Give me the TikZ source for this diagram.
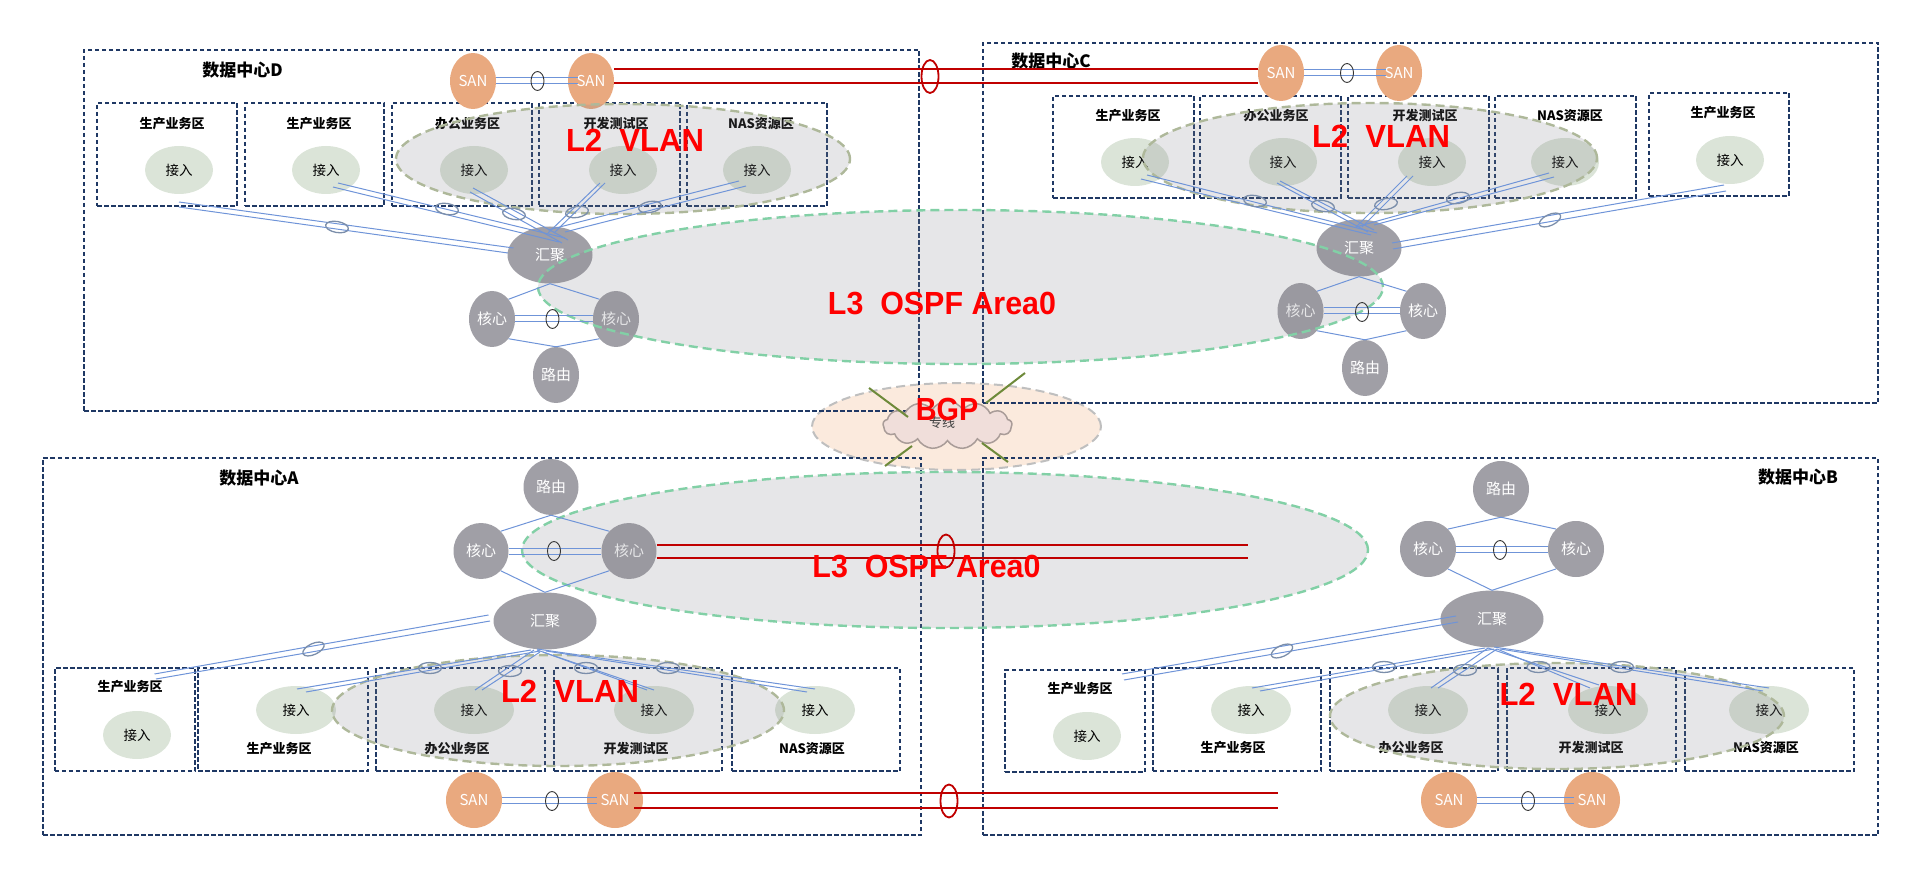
\documentclass[tikz,border=0pt]{standalone}
\usepackage{fontspec}
\setmainfont{Noto Sans CJK SC}
\newfontfamily\labelfont{Liberation Sans}
\usetikzlibrary{shapes.geometric,shapes.symbols}
\definecolor{navyline}{HTML}{1F3864}
\definecolor{linkblue}{HTML}{6F94D8}
\definecolor{ovalgray}{HTML}{7B8EAA}
\definecolor{redline}{HTML}{C00000}
\definecolor{accessfill}{HTML}{DBE4D8}
\definecolor{nodegray}{HTML}{A09FA6}
\definecolor{sanfill}{HTML}{E9A97F}
\definecolor{bgpfill}{HTML}{FBEADD}
\definecolor{cloudfill}{HTML}{F0DEDA}
\definecolor{cloudedge}{HTML}{A99C98}
\definecolor{wireolive}{HTML}{6E8A3A}
\definecolor{areagray}{HTML}{82828A}
\definecolor{lthree}{HTML}{82D0A6}
\definecolor{ltwo}{HTML}{AEB89A}
\tikzset{
  dc/.style={draw=navyline,line width=1.6pt,dash pattern=on 4.5pt off 2.5pt,inner sep=0pt,minimum width=#1},
  zone/.style={dc=#1,line width=1.8pt},
  dctitle/.style={font=\fontsize{17}{17}\selectfont\bfseries,inner sep=0pt},
  zonetitle/.style={font=\fontsize{13}{13}\selectfont\bfseries,inner sep=0pt},
  access/.style={ellipse,fill=accessfill,inner sep=0pt,minimum width=68pt,minimum height=48pt,font=\fontsize{13.5}{13.5}\selectfont},
  hub/.style={ellipse,fill=nodegray,text=white,inner sep=0pt,minimum width=85pt,minimum height=57pt,font=\fontsize{15}{15}\selectfont},
  core/.style={hub,minimum width=46pt,minimum height=56pt},
  san/.style={core,fill=sanfill,font=\fontsize{15}{15}\selectfont},
  lthreearea/.style={ellipse,draw=lthree,line width=2.4pt,dash pattern=on 9pt off 5pt,fill=areagray,fill opacity=0.2,inner sep=0pt},
  ltwoarea/.style={lthreearea,draw=ltwo},
  link/.style={draw=linkblue,line width=1pt},
  redlink/.style={draw=redline,line width=2.6pt},
  wire/.style={draw=wireolive,line width=2pt},
  linkoval/.style={ellipse,draw=ovalgray,line width=1.3pt,inner sep=0pt,minimum width=23pt,minimum height=11pt},
  twinoval/.style={ellipse,draw=black!80,line width=0.9pt,inner sep=0pt,minimum width=13pt,minimum height=19pt},
  redoval/.style={ellipse,draw=redline,line width=1.8pt,inner sep=0pt,minimum width=17pt,minimum height=33pt},
  netlabel/.style={text=red,inner sep=0pt,font=\labelfont\bfseries\fontsize{32}{32}\selectfont},
}
\begin{document}
\begin{tikzpicture}[x=1pt,y=-1pt]
\useasboundingbox (0,0) rectangle (1920,877);

\node[ellipse,draw=black!25,line width=2pt,dash pattern=on 9pt off 5pt,fill=bgpfill,inner sep=0pt,minimum width=289pt,minimum height=87pt] (bgparea) at (956.5,426.5) {};

\node[dc=835pt,minimum height=361pt] (dcD) at (501.5,230.5) {};
\node[dc=895pt,minimum height=360pt] (dcC) at (1430.5,223) {};
\node[dc=878pt,minimum height=377pt] (dcA) at (482,646.5) {};
\node[dc=895pt,minimum height=377pt] (dcB) at (1430.5,646.5) {};
\node[dctitle] (tD) at (242.5,70) {数据中心D};
\node[dctitle] (tC) at (1051,61) {数据中心C};
\node[dctitle] (tA) at (259,478) {数据中心A};
\node[dctitle] (tB) at (1798,477) {数据中心B};

\foreach \n/\x/\w in {zD1/167/140,zD2/314.5/139,zD3/462/140,zD4/609.5/141,zD5/757/140}
  \node[zone=\w pt,minimum height=103pt] (\n) at (\x,154.5) {};
\foreach \n/\x/\w in {zC1/1123.5/141,zC2/1270.5/141,zC3/1418.5/141,zC4/1565.5/141}
  \node[zone=\w pt,minimum height=102pt] (\n) at (\x,147) {};
\node[zone=140pt,minimum height=103pt] (zC5) at (1719,144.5) {};
\foreach \n/\x/\w in {zA1/125/140.5,zA2/283/170,zA3/460.5/169,zA4/638/168,zA5/816/168}
  \node[zone=\w pt,minimum height=103pt] (\n) at (\x,719.5) {};
\node[zone=140pt,minimum height=102pt] (zB1) at (1075,721) {};
\foreach \n/\x/\w in {zB2/1237/168.5,zB3/1414/167.5,zB4/1591.5/169,zB5/1769.5/169}
  \node[zone=\w pt,minimum height=103pt] (\n) at (\x,719.5) {};

\foreach \n/\x/\t in {nD1/172/生产业务区,nD2/319/生产业务区,nD3/467.5/办公业务区,nD4/616/开发测试区,nD5/761/NAS资源区}
  \node[zonetitle] (\n) at (\x,124) {\t};
\foreach \n/\x/\t in {nC1/1128/生产业务区,nC2/1276/办公业务区,nC3/1425/开发测试区,nC4/1570/NAS资源区}
  \node[zonetitle] (\n) at (\x,116) {\t};
\node[zonetitle] (nC5) at (1723,113) {生产业务区};
\node[zonetitle] (nA1) at (130,687) {生产业务区};
\foreach \n/\x/\t in {nA2/279/生产业务区,nA3/457/办公业务区,nA4/636/开发测试区,nA5/812/NAS资源区}
  \node[zonetitle] (\n) at (\x,749) {\t};
\node[zonetitle] (nB1) at (1080,689) {生产业务区};
\foreach \n/\x/\t in {nB2/1233/生产业务区,nB3/1411/办公业务区,nB4/1591/开发测试区,nB5/1766/NAS资源区}
  \node[zonetitle] (\n) at (\x,748) {\t};

\foreach \n/\x in {aD1/179,aD2/326,aD3/474,aD4/623,aD5/757}
  \node[access] (\n) at (\x,170) {接入};
\foreach \n/\x in {aC1/1135,aC2/1283,aC3/1432,aC4/1565}
  \node[access] (\n) at (\x,162) {接入};
\node[access] (aC5) at (1730,160) {接入};
\node[access] (aA1) at (137,735) {接入};
\foreach \n/\x in {aA2/296,aA3/474,aA4/654,aA5/815}
  \node[access,minimum width=80pt] (\n) at (\x,710) {接入};
\node[access] (aB1) at (1087,736) {接入};
\foreach \n/\x in {aB2/1251,aB3/1428,aB4/1608,aB5/1769}
  \node[access,minimum width=80pt] (\n) at (\x,710) {接入};

\node[hub] (hD) at (550,255) {汇聚};
\node[hub] (hC) at (1359,248) {汇聚};
\node[hub,minimum width=103pt] (hA) at (545,621) {汇聚};
\node[hub,minimum width=103pt] (hB) at (1492,619) {汇聚};
\node[core] (cD1) at (492,319) {核心};
\node[core] (cD2) at (616,319) {核心};
\node[core] (rD) at (556,375) {路由};
\node[core] (cC1) at (1300.5,311) {核心};
\node[core] (cC2) at (1423,311) {核心};
\node[core] (rC) at (1365,368) {路由};
\node[core,minimum width=55pt] (cA1) at (481,551) {核心};
\node[core,minimum width=55pt] (cA2) at (629,551) {核心};
\node[core,minimum width=55pt] (rA) at (551,487) {路由};
\node[core,minimum width=56pt] (cB1) at (1428,549) {核心};
\node[core,minimum width=56pt] (cB2) at (1576,549) {核心};
\node[core,minimum width=56pt] (rB) at (1501,489) {路由};

\node[san] (sD1) at (473,81) {SAN};
\node[san] (sD2) at (591,81) {SAN};
\node[san] (sC1) at (1281,73) {SAN};
\node[san] (sC2) at (1399,73) {SAN};
\node[san,minimum width=56pt] (sA1) at (474,800) {SAN};
\node[san,minimum width=56pt] (sA2) at (615,800) {SAN};
\node[san,minimum width=56pt] (sB1) at (1449,800) {SAN};
\node[san,minimum width=56pt] (sB2) at (1592,800) {SAN};

\node[lthreearea,minimum width=845pt,minimum height=154pt] (ospfTop) at (960.5,287) {};
\node[lthreearea,minimum width=846pt,minimum height=156pt] (ospfBottom) at (945,550) {};
\node[ltwoarea,minimum width=454pt,minimum height=110pt] (vlanD) at (623,159) {};
\node[ltwoarea,minimum width=454pt,minimum height=110pt] (vlanC) at (1370,158) {};
\node[ltwoarea,minimum width=452pt,minimum height=111pt] (vlanA) at (558,710.5) {};
\node[ltwoarea,minimum width=454pt,minimum height=106pt] (vlanB) at (1557,716) {};

\foreach \a/\ax/\ay/\h/\hx/\hy in {
  aD1/0/32/hD/-36.5/-7, aD1/0/37/hD/-42/-2,
  aD2/12/13/hD/15/-17, aD2/7/17/hD/9/-13,
  aD3/-1/18/hD/18/-15, aD3/-4/22/hD/12/-12,
  aD4/-18/13/hD/4/-22, aD4/-23/13/hD/-2/-22,
  aD5/-18/11/hD/-2/-25, aD5/-11/16/hD/15/-23,
  aC1/12/13/hC/18/-15, aC1/6/17/hC/12/-13,
  aC2/-3/19/hC/15/-18, aC2/-6/21/hC/9/-16,
  aC3/-19/14/hC/3/-21, aC3/-25/14/hC/-3/-21,
  aC4/-16/11/hC/-3/-21, aC4/-11/15/hC/15/-23,
  aC5/-6/25/hC/33/-5, aC5/-4/31/hC/34/1,
  aA1/17.5/-61/hA/-56.5/-6, aA1/19/-56/hA/-55/0,
  aA2/1/-21/hA/-14/29, aA2/10/-18/hA/-5/30,
  aA3/1/-20/hA/-11/29, aA3/8/-20/hA/-5/31,
  aA4/0/-20/hA/-8/29, aA4/-7/-20/hA/-2/31,
  aA5/0/-21/hA/-8/28, aA5/-8/-18/hA/1/30,
  aB1/35/-62/hB/-36/-3, aB1/37/-56/hB/-34/3,
  aB2/1/-22/hB/-7/29, aB2/9/-19/hB/2/30,
  aB3/3/-22/hB/-4/29, aB3/10/-22/hB/5/30,
  aB4/-9/-25/hB/-4/29, aB4/-18/-22/hB/5/30,
  aB5/0/-22/hB/2/28, aB5/-6/-19/hB/8/30}
  \draw[link] ([shift={(\ax,\ay)}]\a.center) -- ([shift={(\hx,\hy)}]\h.center);

\foreach \c/\d/\h/\r in {cD1/cD2/hD/rD,cC1/cC2/hC/rC} {
  \draw[link] (\h.south) -- (\c.50);
  \draw[link] (\h.south) -- (\d.130);
  \draw[link] (\r.north) -- (\c.-50);
  \draw[link] (\r.north) -- (\d.-130);
}
\foreach \c/\d/\h/\r in {cA1/cA2/hA/rA,cB1/cB2/hB/rB} {
  \draw[link] (\r.south) -- (\c.45);
  \draw[link] (\r.south) -- (\d.135);
  \draw[link] (\h.north) -- (\c.-45);
  \draw[link] (\h.north) -- (\d.-135);
}
\foreach \a/\b in {cD1/cD2,cC1/cC2,cA1/cA2,cB1/cB2}
  \foreach \s in {-3,3}
    \draw[link] ([yshift=\s pt]\a.east) -- ([yshift=\s pt]\b.west);
\foreach \a/\b in {sD1/sD2,sC1/sC2,sA1/sA2,sB1/sB2}
  \foreach \s in {-3,3}
    \draw[link,shorten >=-10pt] ([yshift=\s pt]\a.east) -- ([yshift=\s pt]\b.west);

\foreach \n/\x/\y/\r in {
  oD1/337/227/-10,oD2/447/209/-10,oD3/514/214/-10,oD4/577/212/10,oD5/650/207/10,
  oC1/1255/201/-10,oC2/1323/206/-10,oC3/1386/204/10,oC4/1458/198/10,oC5/1550/220/25,
  oA1/313.5/649/25,oA2/430/668/0,oA3/510/671/0,oA4/586/668/0,oA5/668/668/0,
  oB1/1282/651/25,oB2/1384/667/0,oB3/1465/670/0,oB4/1538.5/667/0,oB5/1622/667/0}
  \node[linkoval,rotate=\r] (\n) at (\x,\y) {};
\foreach \n/\x/\y in {oSD/537.5/81,oCD/552.5/319,oSC/1347/73,oCC/1362/312,
  oSA/552/801,oCA/554/551,oSB/1528/801,oCB/1500/550}
  \node[twinoval] (\n) at (\x,\y) {};

\coordinate (endA1) at (1248,545);
\coordinate (endA2) at (1248,558);
\coordinate (endS1) at (1278,793);
\coordinate (endS2) at (1278,808);
\draw[redlink] ([yshift=12pt]sD2.east) -- ([yshift=4pt]sC1.west);
\draw[redlink] ([yshift=-2pt]sD2.east) -- ([yshift=-10pt]sC1.west);
\draw[redlink] ([yshift=6pt]cA2.east) -- (endA1);
\draw[redlink] ([yshift=-7pt]cA2.east) -- (endA2);
\draw[redlink,shorten <=-9pt] ([yshift=7pt]sA2.east) -- (endS1);
\draw[redlink,shorten <=-9pt] ([yshift=-8pt]sA2.east) -- (endS2);
\node[redoval] (oRD) at (930,76.5) {};
\node[redoval] (oRA) at (946,551) {};
\node[redoval] (oRS) at (949,801) {};

\node[cloud,cloud puffs=13,cloud puff arc=120,aspect=2.7,draw=cloudedge,line width=1.5pt,fill=cloudfill,inner sep=0pt,minimum width=129pt,minimum height=48pt] (wan) at (947.5,425) {};
\node[inner sep=0pt,text=black!75,font=\fontsize{13}{13}\selectfont] (wanText) at (942,423) {专线};
\coordinate (wireA) at (869,388);
\coordinate (wireB) at (1025,373);
\coordinate (wireC) at (885,466);
\coordinate (wireD) at (1008,462);
\draw[wire] (wireA) -- ([shift={(-39.5,-8)}]wan.center);
\draw[wire] (wireB) -- ([shift={(38.5,-22)}]wan.center);
\draw[wire] (wireC) -- ([shift={(-35.5,21)}]wan.center);
\draw[wire] (wireD) -- ([shift={(34.5,18)}]wan.center);

\node[netlabel] (labelD) at (635,140) {\scalebox{.97}[1]{L2\ \ VLAN}};
\node[netlabel] (labelC) at (1381,136) {\scalebox{.97}[1]{L2\ \ VLAN}};
\node[netlabel] (labelA) at (570,691) {\scalebox{.97}[1]{L2\ \ VLAN}};
\node[netlabel] (labelB) at (1568.5,694) {\scalebox{.97}[1]{L2\ \ VLAN}};
\node[netlabel] (labelTop) at (942,304) {\scalebox{.95}[1]{L3\ \ OSPF Area0}};
\node[netlabel] (labelBottom) at (926.5,567) {\scalebox{.95}[1]{L3\ \ OSPF Area0}};
\node[netlabel] (labelBgp) at (947,409) {\scalebox{.9}[1]{BGP}};
\end{tikzpicture}
\end{document}
